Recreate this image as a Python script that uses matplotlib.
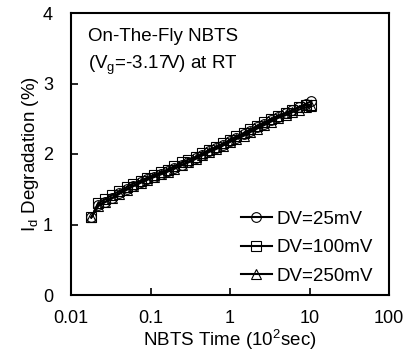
import matplotlib.pyplot as plt

plt.rcParams['font.family'] = ['Liberation Sans', 'DejaVu Sans']

# NBTS time (x 10^2 sec)
time = [0.018, 0.022, 0.027, 0.033, 0.04, 0.05, 0.06, 0.075, 0.09, 0.11, 0.135,
        0.165, 0.2, 0.25, 0.3, 0.37, 0.45, 0.55, 0.67, 0.82, 1.0, 1.2, 1.5, 1.8,
        2.2, 2.7, 3.3, 4.0, 5.0, 6.0, 7.4, 9.0, 10.5]

# Id degradation (%)
dv25 = [1.10, 1.27, 1.32, 1.38, 1.44, 1.50, 1.55, 1.60, 1.64, 1.68, 1.72,
        1.76, 1.80, 1.85, 1.89, 1.94, 1.99, 2.04, 2.09, 2.13, 2.18, 2.23, 2.28, 2.33,
        2.38, 2.43, 2.48, 2.53, 2.58, 2.62, 2.67, 2.71, 2.75]
dv100 = [1.10, 1.30, 1.36, 1.42, 1.47, 1.53, 1.58, 1.62, 1.66, 1.70, 1.74,
         1.78, 1.83, 1.88, 1.92, 1.96, 2.01, 2.06, 2.10, 2.15, 2.20, 2.25, 2.30, 2.35,
         2.40, 2.45, 2.50, 2.54, 2.58, 2.62, 2.66, 2.69, 2.70]
dv250 = [1.10, 1.26, 1.32, 1.37, 1.43, 1.49, 1.54, 1.59, 1.63, 1.67, 1.71,
         1.75, 1.79, 1.84, 1.88, 1.93, 1.98, 2.03, 2.07, 2.12, 2.17, 2.21, 2.26, 2.31,
         2.36, 2.41, 2.46, 2.51, 2.55, 2.59, 2.63, 2.66, 2.68]

labels = ['DV=25mV', 'DV=100mV', 'DV=250mV']
markers = ['o', 's', '^']

fs = 13.5

fig = plt.figure(figsize=(4.07, 3.64), dpi=100)
ax = fig.add_axes([71/407, 1 - 295/364, 318/407, 282/364])

for y, lab, m in zip([dv25, dv100, dv250], labels, markers):
    ax.plot(time, y, color='black', lw=1.5, marker=m, ms=7,
            mfc='none', mec='black', mew=0.8, label=lab)

ax.set_xscale('log')
ax.set_xlim(0.01, 100)
ax.set_ylim(0, 4)
ax.set_xticks([0.01, 0.1, 1, 10, 100])
ax.set_xticklabels(['0.01', '0.1', '1', '10', '100'])
ax.set_yticks([0, 1, 2, 3, 4])
ax.minorticks_off()
ax.tick_params(direction='in', length=5, labelsize=13, width=1.2,
               top=False, right=False)
ax.tick_params(axis='x', pad=11)
ax.tick_params(axis='y', pad=13)
for s in ax.spines.values():
    s.set_linewidth(1.5)

ax.set_xlabel(r'NBTS Time (10$^\mathregular{2}$sec)', fontsize=fs, labelpad=0)
ax.set_ylabel(r'I$_\mathregular{d}$ Degradation (%)', fontsize=fs, labelpad=1)

ax.text(0.053, 0.915, 'On-The-Fly NBTS', transform=ax.transAxes, fontsize=fs, va='center')
ax.text(0.053, 0.815, r'(V$_\mathregular{g}$=-3.17V) at RT', transform=ax.transAxes,
        fontsize=fs, va='center')

ax.legend(loc='lower right', frameon=False, fontsize=fs, handlelength=1.7,
          handletextpad=0.2, labelspacing=0.6, borderpad=0,
          bbox_to_anchor=(0.978, 0.003))

fig.savefig('out.png', dpi=100)
